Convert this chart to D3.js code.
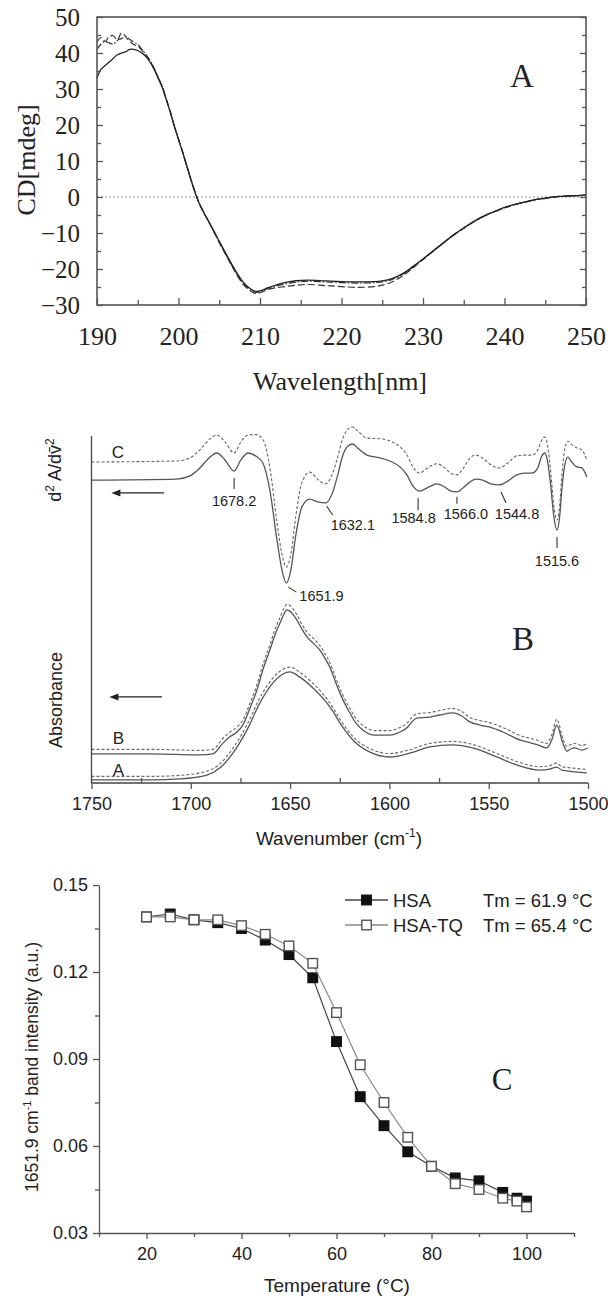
<!DOCTYPE html>
<html>
<head>
<meta charset="utf-8">
<script src="https://cdn.jsdelivr.net/npm/d3@7"></script>
<style>
  body { margin: 0; background: #fff; }
</style>
</head>
<body>
<div id="chart"></div>
<script>
// ---------- Panel A: CD spectra ----------
const cdWavelength = [190,190.5,191,191.5,192,192.5,193,193.5,194,194.5,195,195.5,196,196.5,197,197.5,198,198.5,199,199.5,
  200,200.5,201,201.5,202,202.5,203,204,205,206,207,208,209,209.5,210,211,212,213,214,215,216,218,220,222,224,225,
  226,227,228,229,230,231,232,233,234,235,236,237,238,239,240,241,242,243,244,245,246,247,248,249,250];
const cdSolid = [33,35.5,36.5,37.5,38.5,39.5,40,40.3,41,41,40.7,40,39,37.5,35.5,33,30.5,27,23.5,19.5,
  16,12.5,8.7,5,1.5,-1.5,-3.8,-8,-12.3,-16.5,-20.5,-23.8,-25.8,-26.2,-26.1,-25.2,-24.4,-23.8,-23.4,-23.2,-23.1,
  -23.3,-23.5,-23.6,-23.5,-23.3,-22.8,-21.9,-20.6,-18.9,-17.2,-15.4,-13.6,-11.8,-10.1,-8.6,-7.1,-5.8,-4.7,-3.8,
  -2.9,-2.2,-1.6,-1.1,-0.6,-0.3,0,0.2,0.3,0.4,0.5];
const cdDashed = [43,44.3,43.2,44.6,44.8,43.6,45.6,44.6,43.2,42.4,41.8,40.8,39.4,37.8,35.7,33.2,30.6,27.2,23.6,19.7,
  16.1,12.6,8.8,5.1,1.6,-1.5,-3.9,-8.2,-12.6,-16.9,-21,-24.4,-26.4,-26.8,-26.6,-25.7,-25.2,-24.9,-24.6,-24.4,-24.3,
  -24.6,-24.9,-25.1,-24.9,-24.5,-23.8,-22.6,-21.1,-19.3,-17.4,-15.5,-13.7,-11.9,-10.2,-8.7,-7.2,-5.9,-4.8,-3.9,
  -3,-2.3,-1.7,-1.2,-0.7,-0.4,0,0.2,0.3,0.4,0.5];
const cdDashDot = [41,42.5,43.2,42.8,42.5,43.5,44,44.6,43.8,43,42.4,41,39.6,37.9,35.8,33.3,30.7,27.2,23.6,19.6,
  16,12.5,8.7,5,1.5,-1.6,-3.9,-8.1,-12.5,-16.7,-20.8,-24.1,-26.1,-26.5,-26.3,-25.4,-24.7,-24.2,-23.8,-23.5,-23.4,
  -23.6,-23.8,-23.9,-23.8,-23.6,-23.1,-22.1,-20.8,-19.1,-17.3,-15.5,-13.7,-11.9,-10.2,-8.7,-7.2,-5.9,-4.8,-3.9,
  -3,-2.3,-1.7,-1.2,-0.7,-0.4,0,0.2,0.3,0.4,0.5];
const cdXTicks = [190,200,210,220,230,240,250];
const cdYTicks = [-30,-20,-10,0,10,20,30,40,50];

// ---------- Panel B: FTIR second derivative + absorbance (arbitrary units) ----------
const d2Wn = [1750,1707.0,1700.4,1695.4,1690.4,1686.9,1682.8,1678.2,1674.8,1671.2,
  1667.2,1663.7,1660.2,1656.6,1654.1,1651.9,1649.6,1647.1,1644.1,1640.1,
  1636.1,1632.1,1628.5,1626.0,1623.4,1620.9,1618.4,1615.9,1611.3,1604.8,
  1599.8,1594.7,1591.2,1588.2,1584.8,1582.2,1579.1,1576.1,1572.1,1569.1,
  1566.0,1563.0,1559.5,1556.5,1553.0,1548.9,1544.8,1540.4,1535.9,1531.8,
  1528.3,1525.3,1523.3,1521.8,1520.3,1518.8,1517.3,1515.6,1514.2,1513.2,
  1511.7,1510.2,1508.2,1505.7,1503.1,1500.6];
const d2Solid = [87.3,87.6,88.5,90.8,93.9,95.1,93.1,89.9,93.1,95.1,
  94.2,92.2,84.4,70.0,61.4,57.6,61.4,71.5,79.5,81.8,
  81.0,80.7,83.9,88.8,94.5,97.1,97.7,96.5,94.5,93.7,
  92.8,91.1,88.8,85.6,84.1,84.7,85.6,86.2,85.3,84.1,
  83.9,85.0,86.7,87.6,87.3,86.2,85.9,87.0,88.8,89.3,
  89.3,90.8,94.2,95.1,92.5,85.9,77.2,72.9,77.2,84.4,
  91.6,93.9,92.5,91.1,90.8,88.2];
const d2Dashed = [92.5,92.8,93.7,96.0,99.1,100.3,98.3,95.1,98.3,100.3,
  100.4,99.0,91.0,75.0,66.0,62.2,66.0,77.0,86.5,89.6,
  87.5,86.2,89.4,94.0,99.4,102.0,102.6,101.4,99.4,99.2,
  98.6,96.9,94.6,91.1,89.3,90.2,91.4,92.0,90.8,89.3,
  88.8,90.5,93.6,94.5,93.6,91.7,90.8,92.2,94.3,94.5,
  94.5,96.0,98.8,99.7,97.1,89.9,80.4,75.8,80.4,88.4,
  96.2,98.5,97.5,96.6,96.0,93.1];

const absBWn = [1750,1720.6,1695.4,1688.9,1683.8,1680.3,1676.8,1673.8,1670.2,1666.7,
  1663.7,1660.2,1657.6,1655.1,1653.1,1651.6,1649.1,1646.6,1644.1,1641.5,
  1638.0,1635.0,1632.5,1630.0,1627.5,1624.9,1622.4,1619.9,1616.9,1613.4,
  1607.3,1599.8,1594.7,1591.2,1588.7,1586.2,1579.7,1574.6,1568.1,1563.5,
  1559.5,1554.5,1549.4,1542.9,1534.3,1525.3,1520.8,1519.2,1517.7,1516.7,
  1515.7,1514.7,1513.2,1511.7,1510.7,1508.7,1506.7,1503.1,1500.1];
const absBSolid = [8.4,8.4,8.1,8.4,11.5,13.3,14.7,16.7,21.6,26.8,
  32.6,38.3,42.7,46.1,48.7,49.9,49.0,47.0,44.4,42.1,
  40.1,38.3,36.0,33.4,29.7,25.9,22.8,20.2,17.3,15.3,
  13.8,13.8,14.7,15.9,17.6,18.7,19.0,19.6,20.2,19.3,
  17.6,16.7,16.1,14.7,12.4,11.0,10.1,11.2,13.3,15.6,
  16.7,15.6,12.4,10.1,9.2,9.8,10.1,9.5,10.1];
const absBDashed = [9.7,9.7,9.4,9.7,12.9,14.7,16.1,18.1,23.0,28.3,
  34.1,39.8,44.3,47.7,50.3,51.5,50.6,48.5,45.8,43.5,
  41.5,39.6,37.3,34.7,31.0,27.2,24.1,21.5,18.6,16.6,
  15.1,15.1,16.0,17.2,18.9,20.0,20.3,20.9,21.5,20.6,
  18.9,18.0,17.4,16.0,13.7,12.3,11.4,12.6,14.8,17.2,
  18.4,17.2,13.8,11.4,10.5,11.1,11.4,10.8,11.4];

const absAWn = [1750,1720.6,1705.5,1691.9,1685.4,1678.8,1671.7,1665.2,1658.7,1653.6,
  1650.1,1645.1,1638.5,1631.5,1628.5,1624.9,1618.4,1609.8,1599.8,1589.7,
  1579.7,1568.1,1558.0,1545.9,1535.9,1524.3,1519.3,1515.7,1513.2,1510.7,1500.6];
const absASolid = [0.9,0.9,1.2,2.3,4.3,8.6,15.3,23.1,28.8,31.4,
  32.0,30.5,27.4,23.1,20.7,17.3,12.4,8.9,7.5,8.6,
  10.4,11.0,10.1,7.5,5.2,3.7,4.0,4.6,3.7,3.5,2.9];
const absADashed = [1.9,1.9,2.2,3.4,5.5,10.0,16.8,24.6,30.2,32.8,
  33.4,31.9,28.7,24.3,21.8,18.4,13.4,9.9,8.5,9.6,
  11.4,12.0,11.1,8.5,6.2,4.7,5.0,5.8,4.7,4.5,3.9];

const irTicks = [1750,1700,1650,1600,1550,1500];
const irMinorTicks = [1725,1675,1625,1575,1525];
const peakLabels = [1678.2,1651.9,1632.1,1584.8,1566.0,1544.8,1515.6];
const traceLabels = ["C","B","A"];

// ---------- Panel C: thermal unfolding ----------
const temps = [20,25,30,35,40,45,50,55,60,65,70,75,80,85,90,95,98,100];
const hsa   = [0.139,0.140,0.138,0.137,0.135,0.131,0.126,0.118,0.096,0.077,0.067,0.058,0.053,0.049,0.048,0.044,0.042,0.041];
const hsaTq = [0.139,0.139,0.138,0.138,0.136,0.133,0.129,0.123,0.106,0.088,0.075,0.063,0.053,0.047,0.045,0.042,0.041,0.039];
const seriesNames = ["HSA","HSA-TQ"];
const tmLabels = ["Tm = 61.9 °C","Tm = 65.4 °C"];
const tempTicks = [20,40,60,80,100];
const tempMinorTicks = [10,30,50,70,90,110];
const intensityTicks = [0.03,0.06,0.09,0.12,0.15];
const intensityMinorTicks = [0.045,0.075,0.105,0.135];

// ------------------------------------------------------------
const serif = "'Liberation Serif','Times New Roman',serif";
const sans = "'Liberation Sans',Arial,sans-serif";
const axisGrey = "#555";
const ink = "#222";

let svg = d3.select("#chart")
  .append("svg")
  .attr("width", 608)
  .attr("height", 1298)
  .style("display", "block");

function styleAxis(g, size, font, keepDomain) {
  if (!keepDomain) g.select(".domain").remove();
  g.select(".domain").attr("stroke", axisGrey).attr("stroke-width", 1.3);
  g.selectAll(".tick line").attr("stroke", axisGrey).attr("stroke-width", 1.3);
  g.selectAll(".tick text").attr("font-size", size).attr("font-family", font).attr("fill", ink);
}

// ===== Panel A =====
let xA = d3.scaleLinear().domain([190, 250]).range([97, 586]);
let yA = d3.scaleLinear().domain([-30, 50]).range([305, 17]);
let gA = svg.append("g");

gA.append("line")
  .attr("x1", xA(190)).attr("x2", xA(250))
  .attr("y1", yA(0)).attr("y2", yA(0))
  .attr("stroke", "#999").attr("stroke-width", 1)
  .attr("stroke-dasharray", "2,2");

let lineA = d3.line()
  .x((d, i) => xA(cdWavelength[i]))
  .y(d => yA(d))
  .curve(d3.curveCatmullRom);

gA.append("path").attr("d", lineA(cdDashed))
  .attr("fill", "none").attr("stroke", "#333").attr("stroke-width", 1.2).attr("stroke-dasharray", "7,3");
gA.append("path").attr("d", lineA(cdDashDot))
  .attr("fill", "none").attr("stroke", "#333").attr("stroke-width", 1.2).attr("stroke-dasharray", "7,2,1.5,2");
gA.append("path").attr("d", lineA(cdSolid))
  .attr("fill", "none").attr("stroke", "#222").attr("stroke-width", 1.3);

// inward ticks, like the instrument software
gA.append("g").attr("transform", `translate(${xA(190)},0)`)
  .call(d3.axisLeft(yA).tickValues(cdYTicks).tickSize(-6).tickPadding(17).tickFormat(d3.format("d")))
  .call(g => styleAxis(g, 25, serif));
gA.append("g").attr("transform", `translate(${xA(190)},0)`)
  .call(d3.axisLeft(yA).tickValues(d3.range(-25, 50, 10)).tickSize(-4).tickFormat(""))
  .call(g => styleAxis(g, 25, serif));
gA.append("g").attr("transform", `translate(${xA(250)},0)`)
  .call(d3.axisRight(yA).tickValues(cdYTicks).tickSize(-6).tickFormat(""))
  .call(g => styleAxis(g, 25, serif));
gA.append("g").attr("transform", `translate(${xA(250)},0)`)
  .call(d3.axisRight(yA).tickValues(d3.range(-25, 50, 10)).tickSize(-4).tickFormat(""))
  .call(g => styleAxis(g, 25, serif));
gA.append("g").attr("transform", `translate(0,${yA(-30)})`)
  .call(d3.axisBottom(xA).tickValues(cdXTicks).tickSize(-7).tickPadding(22))
  .call(g => styleAxis(g, 26, serif));
gA.append("g").attr("transform", `translate(0,${yA(-30)})`)
  .call(d3.axisBottom(xA).tickValues(d3.range(195, 250, 10)).tickSize(-5).tickFormat(""))
  .call(g => styleAxis(g, 25, serif));

gA.append("rect")
  .attr("x", xA(190)).attr("y", yA(50))
  .attr("width", xA(250) - xA(190)).attr("height", yA(-30) - yA(50))
  .attr("fill", "none").attr("stroke", axisGrey).attr("stroke-width", 1.6);

gA.append("text").attr("x", 522).attr("y", 87)
  .attr("text-anchor", "middle").attr("font-family", serif).attr("font-size", 33).attr("fill", ink)
  .text("A");
gA.append("text").attr("transform", "translate(35,160) rotate(-90)")
  .attr("text-anchor", "middle").attr("font-family", serif).attr("font-size", 26).attr("fill", ink)
  .text("CD[mdeg]");
gA.append("text").attr("x", 340).attr("y", 390)
  .attr("text-anchor", "middle").attr("font-family", serif).attr("font-size", 26).attr("fill", ink)
  .text("Wavelength[nm]");

// ===== Panel B =====
let xB = d3.scaleLinear().domain([1750, 1500]).range([91.5, 588]);
let yB = d3.scaleLinear().domain([0, 100]).range([783, 436]);
let gB = svg.append("g");

function irLine(wn) {
  return d3.line().x((d, i) => xB(wn[i])).y(d => yB(d)).curve(d3.curveMonotoneX);
}
let traces = [
  { wn: d2Wn, vals: d2Dashed, dashed: true },
  { wn: d2Wn, vals: d2Solid, dashed: false },
  { wn: absBWn, vals: absBDashed, dashed: true },
  { wn: absBWn, vals: absBSolid, dashed: false },
  { wn: absAWn, vals: absADashed, dashed: true },
  { wn: absAWn, vals: absASolid, dashed: false }
];
gB.selectAll("path.trace")
  .data(traces)
  .join("path")
  .attr("class", "trace")
  .attr("d", d => irLine(d.wn)(d.vals))
  .attr("fill", "none")
  .attr("stroke", d => d.dashed ? "#666" : "#555")
  .attr("stroke-width", d => d.dashed ? 1.1 : 1.3)
  .attr("stroke-dasharray", d => d.dashed ? "3,2" : null);

// y axis line (no ticks) and x axis line
gB.append("line")
  .attr("x1", xB(1750)).attr("x2", xB(1750))
  .attr("y1", yB(100)).attr("y2", yB(0))
  .attr("stroke", "#444").attr("stroke-width", 1.3);
gB.append("line")
  .attr("x1", xB(1750)).attr("x2", xB(1500))
  .attr("y1", yB(0)).attr("y2", yB(0))
  .attr("stroke", "#444").attr("stroke-width", 1.3);
gB.append("g").attr("transform", `translate(0,${yB(0)})`)
  .call(d3.axisBottom(xB).tickValues(irTicks).tickSize(6).tickPadding(8).tickFormat(d3.format("d")))
  .call(g => styleAxis(g, 18, sans));
gB.append("g").attr("transform", `translate(0,${yB(0)})`)
  .call(d3.axisBottom(xB).tickValues(irMinorTicks).tickSize(-5).tickFormat(""))
  .call(g => styleAxis(g, 18, sans));

// peak annotations: leader line offsets and label offsets in px from the minimum
let peakLayout = [
  { l: [0, 7, 0, 18], anchor: "middle", dx: 0, dy: 35 },
  { l: [2, 4, 10, 9], anchor: "start", dx: 13, dy: 18 },
  { l: [1, 3, 7, 12], anchor: "start", dx: 5, dy: 27 },
  { l: [-1.5, 7, -1.5, 19], anchor: "middle", dx: -6, dy: 32 },
  { l: [0, 5, 0, 12], anchor: "middle", dx: 9, dy: 27 },
  { l: [2, 7, 7, 18], anchor: "middle", dx: 18, dy: 34 },
  { l: [0, 7, 0, 18], anchor: "middle", dx: 0, dy: 36 }
];
let peaks = peakLabels.map((wn, i) => {
  let v = d2Solid[d2Wn.indexOf(wn)];
  return { wn: wn, x: xB(wn), y: yB(v), lay: peakLayout[i] };
});
let pk = gB.append("g").selectAll("g").data(peaks).join("g");
pk.append("line")
  .attr("x1", d => d.x + d.lay.l[0]).attr("y1", d => d.y + d.lay.l[1])
  .attr("x2", d => d.x + d.lay.l[2]).attr("y2", d => d.y + d.lay.l[3])
  .attr("stroke", "#333").attr("stroke-width", 1.1);
pk.append("text")
  .attr("x", d => d.x + d.lay.dx).attr("y", d => d.y + d.lay.dy)
  .attr("text-anchor", d => d.lay.anchor)
  .attr("font-family", sans).attr("font-size", 14.5).attr("fill", ink)
  .text(d => d.wn.toFixed(1));

// arrows drawn toward the left
function arrow(wnFrom, wnTo, v) {
  let x1 = xB(wnFrom), x2 = xB(wnTo), y = yB(v);
  gB.append("line").attr("x1", x1).attr("x2", x2 + 6).attr("y1", y).attr("y2", y)
    .attr("stroke", "#222").attr("stroke-width", 1.3);
  gB.append("path").attr("d", `M${x2},${y} l9,-3.5 l0,7 z`).attr("fill", "#222");
}
arrow(1713.5, 1740, 83.6);
arrow(1714.5, 1741, 24.8);

// trace letters
let traceLabelPos = [[1736.7, 93.7], [1736.5, 11.3], [1736.5, 2.0]];
gB.selectAll("text.trace-label")
  .data(traceLabels)
  .join("text")
  .attr("class", "trace-label")
  .attr("x", (d, i) => xB(traceLabelPos[i][0]))
  .attr("y", (d, i) => yB(traceLabelPos[i][1]))
  .attr("text-anchor", "middle")
  .attr("font-family", sans).attr("font-size", 17).attr("fill", ink)
  .text(d => d);

gB.append("text").attr("x", 523).attr("y", 650)
  .attr("text-anchor", "middle").attr("font-family", serif).attr("font-size", 33).attr("fill", ink)
  .text("B");

let d2Label = gB.append("text").attr("transform", "translate(61,470) rotate(-90)")
  .attr("text-anchor", "middle").attr("font-family", sans).attr("font-size", 18).attr("fill", ink);
d2Label.append("tspan").text("d");
d2Label.append("tspan").attr("dy", -7).attr("font-size", 12).text("2");
d2Label.append("tspan").attr("dy", 7).text(" A/dv\u0304");
d2Label.append("tspan").attr("dy", -7).attr("font-size", 12).text("2");

gB.append("text").attr("transform", "translate(62,700) rotate(-90)")
  .attr("text-anchor", "middle").attr("font-family", sans).attr("font-size", 18).attr("fill", ink)
  .text("Absorbance");

let wnLabel = gB.append("text").attr("x", 339).attr("y", 845)
  .attr("text-anchor", "middle").attr("font-family", sans).attr("font-size", 19).attr("fill", ink);
wnLabel.append("tspan").text("Wavenumber (cm");
wnLabel.append("tspan").attr("dy", -8).attr("font-size", 12).text("-1");
wnLabel.append("tspan").attr("dy", 8).text(")");

// ===== Panel C =====
let xC = d3.scaleLinear().domain([10, 110]).range([99, 574]);
let yC = d3.scaleLinear().domain([0.03, 0.15]).range([1233, 885]);
let gC = svg.append("g");

gC.append("g").attr("transform", `translate(${xC(10)},0)`)
  .call(d3.axisLeft(yC).tickValues(intensityTicks).tickSize(6).tickSizeOuter(0).tickPadding(5).tickFormat(d3.format(".2f")))
  .call(g => styleAxis(g, 18, sans, true));
gC.append("g").attr("transform", `translate(${xC(10)},0)`)
  .call(d3.axisLeft(yC).tickValues(intensityMinorTicks).tickSize(4).tickFormat(""))
  .call(g => styleAxis(g, 18, sans));
gC.append("g").attr("transform", `translate(0,${yC(0.03)})`)
  .call(d3.axisBottom(xC).tickValues(tempTicks).tickSize(6).tickSizeOuter(0).tickPadding(8))
  .call(g => styleAxis(g, 18, sans, true));
gC.append("g").attr("transform", `translate(0,${yC(0.03)})`)
  .call(d3.axisBottom(xC).tickValues(tempMinorTicks).tickSize(4).tickFormat(""))
  .call(g => styleAxis(g, 18, sans));

let series = [
  { name: seriesNames[0], tm: tmLabels[0], vals: hsa, line: "#444", fill: "#111", stroke: "#111" },
  { name: seriesNames[1], tm: tmLabels[1], vals: hsaTq, line: "#888", fill: "#fff", stroke: "#555" }
];
let lineC = d3.line().x((d, i) => xC(temps[i])).y(d => yC(d));
let sq = 9.5;

series.forEach(s => {
  let g = gC.append("g");
  g.append("path").attr("d", lineC(s.vals))
    .attr("fill", "none").attr("stroke", s.line).attr("stroke-width", 1.2);
  g.selectAll("rect")
    .data(s.vals)
    .join("rect")
    .attr("x", (d, i) => xC(temps[i]) - sq / 2)
    .attr("y", d => yC(d) - sq / 2)
    .attr("width", sq).attr("height", sq)
    .attr("fill", s.fill).attr("stroke", s.stroke).attr("stroke-width", 1.4);
});

// legend
let leg = gC.append("g").selectAll("g").data(series).join("g")
  .attr("transform", (d, i) => `translate(0,${900 + i * 25})`);
leg.append("line").attr("x1", 345).attr("x2", 388).attr("y1", 0).attr("y2", 0)
  .attr("stroke", d => d.line).attr("stroke-width", 1.3);
leg.append("rect").attr("x", 366.5 - sq / 2).attr("y", -sq / 2).attr("width", sq).attr("height", sq)
  .attr("fill", d => d.fill).attr("stroke", d => d.stroke).attr("stroke-width", 1.4);
leg.append("text").attr("x", 393).attr("y", 6.5)
  .attr("font-family", sans).attr("font-size", 18.5).attr("fill", ink).text(d => d.name);
leg.append("text").attr("x", 483).attr("y", 6.5)
  .attr("font-family", sans).attr("font-size", 18.5).attr("fill", ink).text(d => d.tm);

gC.append("text").attr("x", 502).attr("y", 1090)
  .attr("text-anchor", "middle").attr("font-family", serif).attr("font-size", 31).attr("fill", ink)
  .text("C");

let cLabel = gC.append("text").attr("transform", "translate(38,1067) rotate(-90)")
  .attr("text-anchor", "middle").attr("font-family", sans).attr("font-size", 17.5).attr("fill", ink);
cLabel.append("tspan").text("1651.9 cm");
cLabel.append("tspan").attr("dy", -7).attr("font-size", 11).text("-1");
cLabel.append("tspan").attr("dy", 7).text(" band intensity (a.u.)");

gC.append("text").attr("x", 337).attr("y", 1292)
  .attr("text-anchor", "middle").attr("font-family", sans).attr("font-size", 19).attr("fill", ink)
  .text("Temperature (°C)");
</script>
</body>
</html>
